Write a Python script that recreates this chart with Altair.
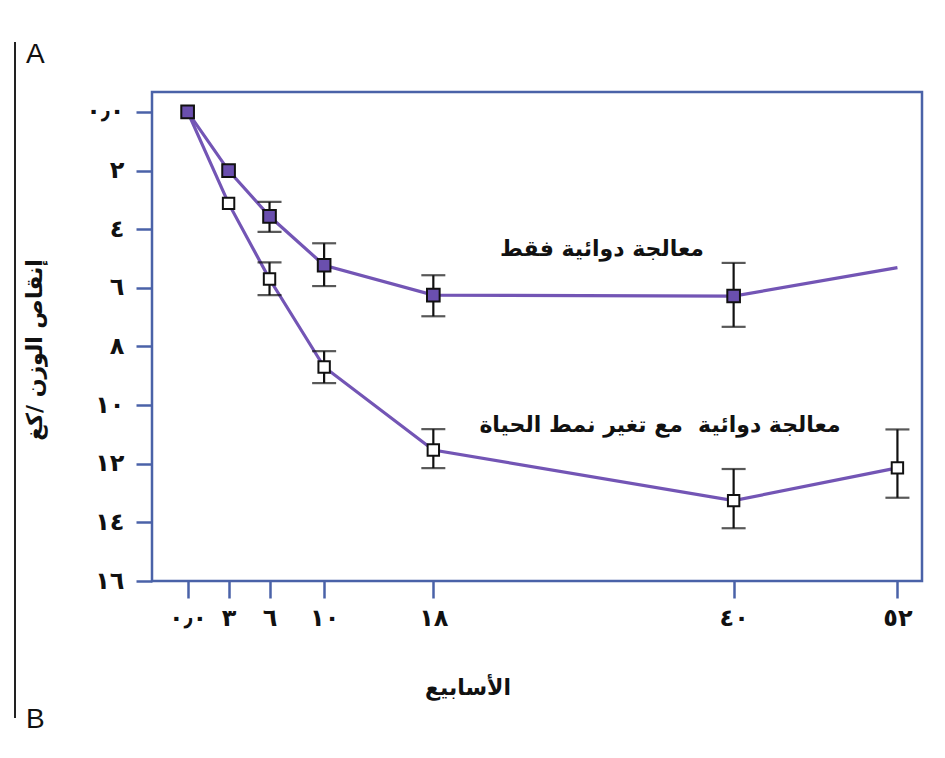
import altair as alt
import pandas as pd

# ---- data ----
weeks = [0, 3, 6, 10, 18, 40, 52]
x_tick_labels = ["٠٫٠", "٣", "٦", "١٠", "١٨", "٤٠", "٥٢"]
y_ticks = [0, 2, 4, 6, 8, 10, 12, 14, 16]
y_tick_labels = ["٠٫٠", "٢", "٤", "٦", "٨", "١٠", "١٢", "١٤", "١٦"]

# medication only (filled squares)
med_only = [0, 2.0, 3.56, 5.23, 6.25, 6.28, 5.31]
med_only_lo = [None, None, 3.07, 4.48, 5.57, 5.15, None]
med_only_hi = [None, None, 4.09, 5.94, 6.97, 7.33, None]
med_only_marker = [True, True, True, True, True, True, False]

# medication + lifestyle change (open squares)
med_life = [0, 3.12, 5.70, 8.70, 11.53, 13.26, 12.14]
med_life_lo = [None, None, 5.13, 8.16, 10.82, 12.18, 10.83]
med_life_hi = [None, None, 6.25, 9.25, 12.15, 14.20, 13.16]

label_med_only = "معالجة دوائية فقط"
label_med_life = "معالجة دوائية\u00a0\u00a0مع تغير نمط الحياة"
y_title = "إنقاص الوزن /كغ"
x_title = "الأسابيع"

FRAME = "#4a62a8"
LINE = "#7355b5"
FILL = "#6a4fae"
FONT = "DejaVu Sans"

df1 = pd.DataFrame({"week": weeks, "val": med_only, "lo": med_only_lo,
                    "hi": med_only_hi, "marker": med_only_marker})
df2 = pd.DataFrame({"week": weeks, "val": med_life, "lo": med_life_lo,
                    "hi": med_life_hi})


def label_expr(ticks, labels):
    parts = [f"datum.value == {t} ? '{l}'" for t, l in zip(ticks, labels)]
    return " : ".join(parts) + " : ''"


xscale = alt.Scale(domain=[-2.61, 53.8], nice=False, zero=False)
yscale = alt.Scale(domain=[-0.68, 16], reverse=True, nice=False, zero=False)

xaxis = alt.Axis(values=weeks, labelExpr=label_expr(weeks, x_tick_labels),
                 title=None, grid=False, domain=False, tickSize=17,
                 tickColor=FRAME, tickWidth=2.5, labelPadding=8,
                 labelFont=FONT, labelFontSize=24, labelFontWeight="bold",
                 labelColor="#111111")
yaxis = alt.Axis(values=y_ticks, labelExpr=label_expr(y_ticks, y_tick_labels),
                 title=None, grid=False, domain=False, tickSize=16,
                 tickColor=FRAME, tickWidth=2.5, labelPadding=12,
                 labelFont=FONT, labelFontSize=24, labelFontWeight="bold",
                 labelColor="#111111")

X = alt.X("week:Q", scale=xscale, axis=xaxis)
Y = alt.Y("val:Q", scale=yscale, axis=yaxis)

line1 = alt.Chart(df1).mark_line(color=LINE, strokeWidth=3.2).encode(x=X, y=Y)
line2 = alt.Chart(df2).mark_line(color=LINE, strokeWidth=3.2).encode(x=X, y=Y)

err1 = alt.Chart(df1).transform_filter("isValid(datum.lo)").mark_errorbar(
    ticks=alt.TickConfig(size=24, color="#111111", thickness=2.2),
    color="#111111", thickness=2.2
).encode(x=alt.X("week:Q", scale=xscale),
         y=alt.Y("lo:Q", scale=yscale), y2="hi:Q")
err2 = alt.Chart(df2).transform_filter("isValid(datum.lo)").mark_errorbar(
    ticks=alt.TickConfig(size=24, color="#111111", thickness=2.2),
    color="#111111", thickness=2.2
).encode(x=alt.X("week:Q", scale=xscale),
         y=alt.Y("lo:Q", scale=yscale), y2="hi:Q")

pts1 = alt.Chart(df1).transform_filter("datum.marker").mark_point(
    shape="square", filled=True, fill=FILL, stroke="#111111",
    strokeWidth=2, size=160, opacity=1
).encode(x=X, y=Y)
pts2 = alt.Chart(df2).mark_point(
    shape="square", filled=True, fill="white", stroke="#111111",
    strokeWidth=2, size=130, opacity=1
).encode(x=X, y=Y)

one = pd.DataFrame({"k": [0]})
ann1 = alt.Chart(one).mark_text(text=label_med_only, font=FONT, fontSize=22,
                                fontWeight="bold", color="#111111").encode(
    x=alt.value(450), y=alt.value(157))
ann2 = alt.Chart(one).mark_text(text=label_med_life, font=FONT, fontSize=22,
                                fontWeight="bold", color="#111111").encode(
    x=alt.value(508), y=alt.value(333))
ytitle = alt.Chart(one).mark_text(text=y_title, font=FONT, fontSize=22,
                                  fontWeight="bold", angle=270,
                                  color="#111111").encode(
    x=alt.value(-117), y=alt.value(258))
xtitle = alt.Chart(one).mark_text(text=x_title, font=FONT, fontSize=22,
                                  fontWeight="bold", color="#111111").encode(
    x=alt.value(316), y=alt.value(596))
sideline = alt.Chart(one).mark_rule(color="#222222", strokeWidth=2).encode(
    x=alt.value(-137), y=alt.value(-50), y2=alt.value(626))
letA = alt.Chart(one).mark_text(text="A", font="Liberation Sans", fontSize=28,
                                color="#111111", align="left").encode(
    x=alt.value(-126), y=alt.value(-37))
letB = alt.Chart(one).mark_text(text="B", font="Liberation Sans", fontSize=28,
                                color="#111111", align="left").encode(
    x=alt.value(-126), y=alt.value(628))

chart = alt.layer(
    line1, line2, err1, err2, pts2, pts1, ann1, ann2, ytitle, xtitle,
    sideline, letA, letB
).properties(
    width=770, height=489,
    autosize=alt.AutoSizeParams(type="none"),
    padding={"left": 144, "top": 84, "right": 15, "bottom": 160},
).configure(
    background="white"
).configure_view(
    stroke=FRAME, strokeWidth=2.5
)

chart.save("out.html", embed_options={"renderer": "svg", "actions": False})
